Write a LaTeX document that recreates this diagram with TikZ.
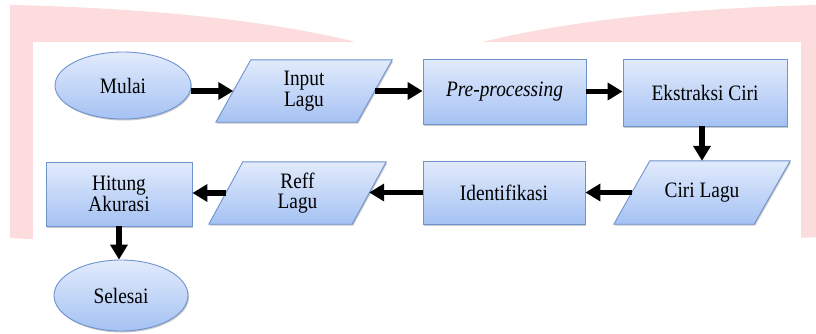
\documentclass[tikz,border=0pt]{standalone}
\usepackage{fontspec}
\setmainfont{Liberation Serif}[FakeStretch=0.88]
\usetikzlibrary{arrows.meta,shadows,backgrounds,calc,shapes.geometric}

\definecolor{pinkbg}{HTML}{FDDCDD}
\definecolor{boxtop}{HTML}{E2EBFC}
\definecolor{boxbot}{HTML}{A5C2F3}
\definecolor{boxline}{HTML}{6F93CF}

\tikzset{
  boxfill/.style={draw=boxline, line width=0.9pt, top color=boxtop, bottom color=boxbot,
    drop shadow={shadow xshift=1pt, shadow yshift=-1.5pt, opacity=0.35, fill=black!60}},
  procbox/.style={boxfill, rectangle, align=center, inner sep=0pt},
  termnode/.style={boxfill, ellipse, align=center, inner sep=0pt},
  iobox/.style={rectangle, align=center, inner sep=0pt, draw=none},
  flow/.style={line width=5.5pt, -{Triangle[length=15pt,width=17pt]}},
}
\newcommand\paral[2]{%
  \path[boxfill] ([xshift=#2]#1.north west) -- ([xshift=#2]#1.north east)
    -- ([xshift=-#2]#1.south east) -- ([xshift=-#2]#1.south west) -- cycle;}

\begin{document}
\begin{tikzpicture}[x=1pt,y=-1pt, every node/.style={font=\fontsize{22}{20.5}\selectfont}]
\useasboundingbox (0,0) rectangle (816,333);

% nodes
\node[termnode, minimum width=136pt, minimum height=67pt] (mulai) at (123,85.5) {Mulai};
\node[iobox, minimum width=141pt, minimum height=62pt] (input) at (304,91) {Input\\Lagu};
\node[procbox, minimum width=163pt, minimum height=65pt] (pre) at (504.5,91.5) {\itshape Pre-processing};
\node[procbox, minimum width=164pt, minimum height=67pt] (eks) at (705,92.5) {Ekstraksi Ciri};
\node[iobox, minimum width=140pt, minimum height=63pt] (ciri) at (702,192.5) {Ciri Lagu};
\node[procbox, minimum width=162pt, minimum height=63pt] (ident) at (504,192.5) {Identifikasi};
\node[iobox, minimum width=143pt, minimum height=62pt] (reff) at (297.5,193) {Reff\\Lagu};
\node[procbox, minimum width=146pt, minimum height=64pt] (hitung) at (119,194) {Hitung\\Akurasi};
\node[termnode, minimum width=134pt, minimum height=71pt] (selesai) at (121,295.5) {Selesai};

\begin{pgfonlayer}{background}
  \fill[pinkbg] (10,5) .. controls (150,8) and (320,22) .. (418,62)
    .. controls (520,22) and (690,8) .. (816,5) -- (816,237)
    .. controls (600,250) and (220,250) .. (10,238) -- cycle;
  \fill[white] (33,42) rectangle (801,333);
  \paral{input}{17.5pt}
  \paral{ciri}{18pt}
  \paral{reff}{17pt}
\end{pgfonlayer}

% connectors
\draw[flow] (mulai.east |- input.west) -- (input.west);
\draw[flow] (input.east) -- (input.east -| pre.west);
\draw[flow] (pre.east) -- (pre.east -| eks.west);
\draw[flow] (ciri.north |- eks.south) -- (ciri.north);
\draw[flow] (ciri.west) -- (ciri.west -| ident.east);
\draw[flow] (ident.west) -- (ident.west -| reff.east);
\draw[flow] (reff.west) -- (reff.west -| hitung.east);
\draw[flow] (hitung.south) -- (hitung.south |- selesai.north);
\end{tikzpicture}
\end{document}
